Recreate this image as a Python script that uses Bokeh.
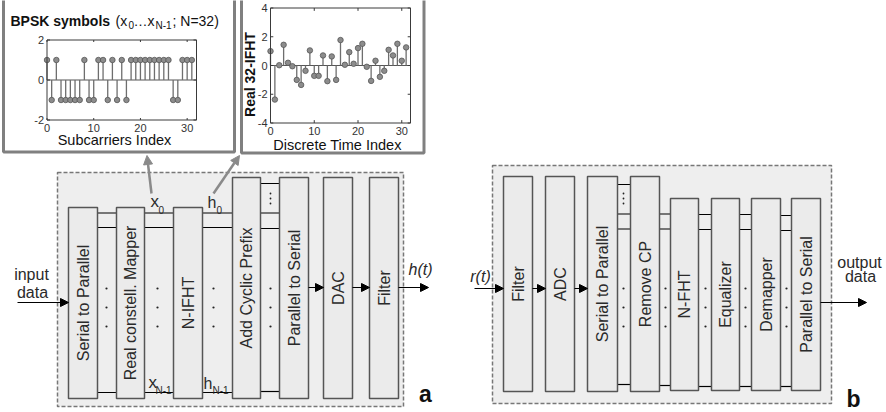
import math
from bokeh.plotting import figure
from bokeh.models import Range1d, Arrow, NormalHead
from bokeh.core.properties import value
from bokeh.embed import file_html
from bokeh.resources import INLINE

# ---------------- data ----------------
# BPSK symbols on the N = 32 subcarriers
subcarrier_idx = list(range(32))
bpsk_symbols = [1, -1, 1, -1, -1, -1, -1, -1, 1, -1, -1, 1, 1, -1, 1, -1,
                1, -1, 1, 1, 1, 1, 1, 1, 1, 1, 1, -1, -1, 1, 1, 1]
bpsk_xlim = [0, 32]
bpsk_ylim = [-2, 2]
bpsk_xticks = [0, 10, 20, 30]
bpsk_yticks = [-2, 0, 2]

# real part of the 32-point inverse FHT of those symbols
time_idx = list(range(32))
ifht_real = [1.0, -2.37, 0.02, 1.44, 0.19, -0.05, -1.0, -1.35, -0.37, 1.05,
             -0.72, -0.72, 0.7, -1.09, 0.63, -1.0, 1.77, 0.05, 0.93, 0.12,
             1.21, 1.51, -0.09, -1.07, 0.33, -0.79, -0.37, 1.09, 0.7, 1.51,
             0.33, 1.26]
ifht_xlim = [0, 32]
ifht_ylim = [-4, 4]
ifht_xticks = [0, 10, 20, 30]
ifht_yticks = [-4, -2, 0, 2, 4]

# transmitter (a) and receiver (b) block names
tx_blocks = ["Serial to Parallel", "Real constell. Mapper", "N-IFHT",
             "Add Cyclic Prefix", "Parallel to Serial", "DAC", "Filter"]
rx_blocks = ["Filter", "ADC", "Serial to Parallel", "Remove CP", "N-FHT",
             "Equalizer", "Demapper", "Parallel to Serial"]

# ---------------- layout (pixel canvas) ----------------
W, H = 886, 412
FONT = value("Liberation Sans")
INK = "#2a2a2a"

p = figure(width=W, height=H, x_range=Range1d(0, W), y_range=Range1d(H, 0),
           output_backend="svg", toolbar_location=None, min_border=0,
           background_fill_color="white", border_fill_color="white")
p.axis.visible = False
p.grid.visible = False
p.outline_line_color = None

def txt(x, y, s, size=16, style="normal", align="left", angle=0.0,
        color=INK):
    # y is the vertical centre of the text line
    p.text(x=[x], y=[y], text=[s], text_font=FONT,
           text_font_size=f"{size}px", text_font_style=style,
           text_align=align, text_baseline="middle", angle=angle,
           text_color=color)

def arrow(x0, y0, x1, y1, color="black", width=1.2, size=8):
    p.add_layout(Arrow(x_start=x0, y_start=y0, x_end=x1, y_end=y1,
                       line_color=color, line_width=width,
                       end=NormalHead(size=size, fill_color=color,
                                      line_color=color)))

# block geometry: (left, right, top, bottom) per block
tx_geom = [(68, 97, 207, 398), (116, 144, 207, 398), (173, 202, 207, 398),
           (232, 260, 177, 398), (279, 308, 177, 398), (323, 352, 177, 398),
           (369, 398, 177, 398)]
rx_geom = [(503, 532, 176, 391), (545, 574, 176, 391), (587, 617, 176, 391),
           (630, 659, 176, 391), (670, 698, 198, 390), (711, 739, 198, 390),
           (751, 780, 198, 390), (791, 820, 198, 390)]

# dashed panel boxes
for (l, r, t, b) in [(57, 403, 172, 406), (492, 831, 165, 403)]:
    p.quad(left=[l], right=[r], top=[t], bottom=[b], fill_color="#eeeeee",
           line_color="#777777", line_width=1.5, line_dash="4 2")

# connection buses between parallel blocks: (x0, x1, [ys])
buses = [(97, 116, [212.5, 227, 392]), (144, 173, [212.5, 227, 392]),
         (202, 232, [212.5, 227, 392]), (260, 279, [183, 212.5, 228, 391]),
         (617, 630, [184, 213.5, 228.5, 384]), (659, 670, [213.5, 228.5, 385]),
         (698, 711, [214, 229, 386]), (739, 751, [214, 229, 386]),
         (780, 791, [215, 230, 386])]
for x0, x1, ys in buses:
    p.segment(x0=[x0] * len(ys), x1=[x1] * len(ys), y0=ys, y1=ys,
              line_color="black", line_width=1.2)

# "..." between parallel lines
for xd in [106, 157, 213, 270, 623, 665, 705, 745, 786]:
    p.scatter(x=[xd] * 3, y=[288, 307, 326], size=2.2, marker="circle",
              fill_color="#222", line_color=None)
for xd in [270, 623]:
    p.scatter(x=[xd] * 3, y=[193, 198, 203], size=1.8, marker="circle",
              fill_color="#222", line_color=None)

# blocks with rotated names
for names, geom in [(tx_blocks, tx_geom), (rx_blocks, rx_geom)]:
    for name, (l, r, t, b) in zip(names, geom):
        p.quad(left=[l], right=[r], top=[t], bottom=[b], fill_color="#ebebeb",
               line_color="#555555", line_width=1.5)
        txt((l + r) / 2, (t + b) / 2, name, size=16, align="center",
            angle=math.pi / 2)

# signal labels on the buses
txt(150, 201, "x", size=17); txt(158, 209.5, "0", size=10)
txt(148, 382, "x", size=17); txt(155, 389.5, "N-1", size=10)
txt(207, 201.5, "h", size=16); txt(216, 209.5, "0", size=10)
txt(203, 382.5, "h", size=16); txt(212, 389.5, "N-1", size=10)

# transmitter arrows and labels
txt(31, 273.5, "input", align="center")
txt(32, 292, "data", align="center")
arrow(17, 302, 68, 302)
arrow(308, 287, 323, 287)
arrow(352, 287, 369, 287)
arrow(398, 287, 428, 287)
txt(420, 268.5, "h(t)", style="italic", align="center")
txt(425, 393.5, "a", size=23, style="bold", align="center", color="#111")

# receiver arrows and labels
txt(480, 275.5, "r(t)", style="italic", align="center")
arrow(474, 288, 503, 288)
arrow(532, 288, 545, 288)
arrow(574, 288, 587, 288)
arrow(820, 302, 866, 302)
txt(859, 261.5, "output", align="center")
txt(860, 276, "data", align="center")
txt(853, 398.5, "b", size=23, style="bold", align="center", color="#111")

# pointers from the buses to the two plots
arrow(151, 193, 146.5, 155, color="#8a8a8a", width=2.5, size=9)
arrow(213, 193, 239, 155, color="#8a8a8a", width=2.5, size=9)

# ---------------- inset plot frames ----------------
for (l, r, t, b) in [(3, 234, -3, 151.5), (241, 423.5, -3, 152.5)]:
    p.quad(left=[l], right=[r], top=[t], bottom=[b], fill_color="white",
           line_color="#808080", line_width=3)

def stem_panel(xs, ys, xlim, ylim, xticks, yticks, xt, yt):
    sub = p.subplot(x_source=Range1d(*xlim), y_source=Range1d(*ylim),
                    x_target=Range1d(*xt), y_target=Range1d(*yt))
    span_y = ylim[1] - ylim[0]
    span_x = xlim[1] - xlim[0]
    # zero line, stems, markers
    sub.segment(x0=[xlim[0]], x1=[xlim[1]], y0=[0], y1=[0],
                line_color="#555555", line_width=1.2)
    sub.segment(x0=xs, x1=xs, y0=0, y1=ys, line_color="#6e6e6e",
                line_width=1.3)
    sub.scatter(x=xs, y=ys, size=5.5, marker="circle", fill_color="#8c8c8c",
                line_color="#555555", line_width=0.8)
    # axes box with inward ticks
    sub.quad(left=[xlim[0]], right=[xlim[1]], bottom=[ylim[0]], top=[ylim[1]],
             fill_color=None, line_color="#3a3a3a", line_width=1)
    tl_y = span_y * 0.025
    tl_x = span_x * 0.02
    sub.segment(x0=xticks, x1=xticks, y0=ylim[0], y1=ylim[0] + tl_y,
                line_color="#3a3a3a")
    sub.segment(x0=xticks, x1=xticks, y0=ylim[1], y1=ylim[1] - tl_y,
                line_color="#3a3a3a")
    sub.segment(x0=xlim[0], x1=xlim[0] + tl_x, y0=yticks, y1=yticks,
                line_color="#3a3a3a")
    sub.segment(x0=xlim[1], x1=xlim[1] - tl_x, y0=yticks, y1=yticks,
                line_color="#3a3a3a")
    sub.text(x=xticks, y=ylim[0], text=[str(v) for v in xticks],
             text_font=FONT, text_font_size="11px", text_color="#333333",
             text_align="center", text_baseline="middle", y_offset=8)
    sub.text(x=xlim[0], y=yticks, text=[str(v) for v in yticks],
             text_font=FONT, text_font_size="11px", text_color="#333333",
             text_align="right", text_baseline="middle", x_offset=-3)
    return sub

stem_panel(subcarrier_idx, bpsk_symbols, bpsk_xlim, bpsk_ylim, bpsk_xticks,
           bpsk_yticks, (46.5, 196), (119.5, 39.5))
stem_panel(time_idx, ifht_real, ifht_xlim, ifht_ylim, ifht_xticks,
           ifht_yticks, (270, 410), (122.5, 7.5))

# inset titles and axis labels
txt(10, 20, "BPSK symbols", size=14, style="bold", color="#111")
txt(115, 20, "(x", size=14, color="#111")
txt(128, 24.5, "0", size=10, color="#111")
txt(133, 20, "\u2026x", size=14, color="#111")
txt(155, 24.5, "N-1", size=10, color="#111")
txt(172, 20, "; N=32)", size=14, color="#111")
txt(114, 139, "Subcarriers Index", size=14.5, align="center", color="#111")
txt(337, 144, "Discrete Time Index", size=14.5, align="center", color="#111")
txt(249, 74, "Real 32-IFHT", size=14, style="bold", align="center",
    angle=math.pi / 2, color="#111")

open("out.html", "w").write(file_html(p, INLINE))
